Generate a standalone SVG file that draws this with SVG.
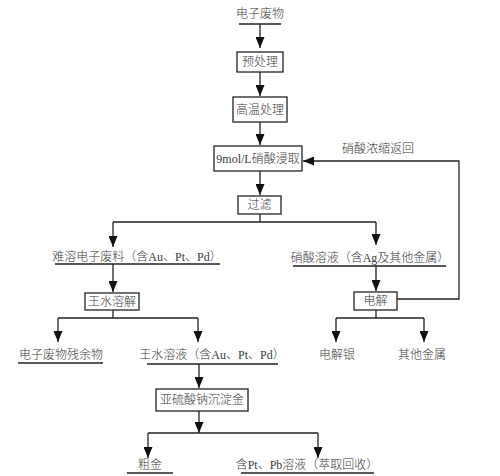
<svg xmlns="http://www.w3.org/2000/svg" width="500" height="476" viewBox="0 0 500 476">
<defs>
<marker id="ah" viewBox="0 0 11 9" refX="11" refY="4.5" markerWidth="11" markerHeight="9" markerUnits="userSpaceOnUse" orient="auto">
<path d="M0,0 L11,4.5 L0,9 z" fill="#111"/>
</marker>
<style>
.t{font-family:"Liberation Serif","Noto Sans CJK SC",serif;font-size:12px;font-weight:300;fill:#3a3a3a;text-anchor:middle}
.b{fill:#fff;stroke:#222;stroke-width:1.3}
.l{fill:none;stroke:#222;stroke-width:1.3}
.a{fill:none;stroke:#222;stroke-width:1.3;marker-end:url(#ah)}
</style>
</defs>
<rect width="500" height="476" fill="#fff"/>
<g id="n_waste"><text class="t" x="260" y="18">电子废物</text><line class="l" x1="239" y1="24" x2="281" y2="24"/></g>
<g id="n_pre"><rect class="b" x="237" y="52" width="46" height="20"/><text class="t" x="260" y="66">预处理</text></g>
<g id="n_heat"><rect class="b" x="233" y="97" width="54" height="25"/><text class="t" x="260" y="114">高温处理</text></g>
<g id="n_leach"><rect class="b" x="214" y="146" width="88" height="25"/><text class="t" x="258" y="163">9mol/L硝酸浸取</text></g>
<g id="n_filter"><rect class="b" x="238" y="196" width="43" height="18"/><text class="t" x="259.5" y="209">过滤</text></g>
<g id="n_insol"><text class="t" x="137" y="261">难溶电子废料（含Au、Pt、Pd）</text><line class="l" x1="55" y1="264" x2="220" y2="264"/></g>
<g id="n_nitric"><text class="t" x="370" y="262">硝酸溶液（含Ag及其他金属）</text><line class="l" x1="293" y1="266" x2="446" y2="266"/></g>
<g id="n_aqua"><rect class="b" x="85" y="293" width="54" height="17"/><text class="t" x="112" y="306">王水溶解</text></g>
<g id="n_elec"><rect class="b" x="354" y="292" width="43" height="18"/><text class="t" x="375.5" y="305">电解</text></g>
<g id="n_resid"><text class="t" x="61" y="359">电子废物残余物</text><line class="l" x1="18" y1="363" x2="103" y2="363"/></g>
<g id="n_aquasol"><text class="t" x="212" y="359">王水溶液（含Au、Pt、Pd）</text><line class="l" x1="147" y1="364" x2="278" y2="364"/></g>
<g id="n_ag"><text class="t" x="337" y="359">电解银</text></g>
<g id="n_other"><text class="t" x="422" y="359">其他金属</text></g>
<g id="n_sulfite"><rect class="b" x="156" y="389" width="92" height="22"/><text class="t" x="202" y="404">亚硫酸钠沉淀金</text></g>
<g id="n_gold"><text class="t" x="150" y="469">粗金</text><line class="l" x1="127" y1="473" x2="173" y2="473"/></g>
<g id="n_ptpb"><text class="t" x="307" y="469">含Pt、Pb溶液（萃取回收）</text><line class="l" x1="241" y1="473" x2="374" y2="473"/></g>
<g id="n_back"><text class="t" x="378" y="153">硝酸浓缩返回</text></g>
<g id="connectors">
<line class="a" x1="260" y1="24" x2="260" y2="48"/>
<line class="a" x1="260" y1="72" x2="260" y2="96"/>
<line class="a" x1="260" y1="122" x2="260" y2="145"/>
<line class="a" x1="260" y1="171" x2="260" y2="195"/>
<polyline class="l" points="260,214 260,222"/>
<line class="l" x1="113" y1="222" x2="376" y2="222"/>
<line class="a" x1="113" y1="222" x2="113" y2="247"/>
<line class="a" x1="376" y1="222" x2="376" y2="245"/>
<line class="a" x1="113" y1="264" x2="113" y2="292"/>
<line class="l" x1="113" y1="310" x2="113" y2="318"/>
<line class="l" x1="58" y1="318" x2="198" y2="318"/>
<line class="a" x1="58" y1="318" x2="58" y2="342"/>
<line class="a" x1="198" y1="318" x2="198" y2="342"/>
<line class="a" x1="376" y1="266" x2="376" y2="291"/>
<polyline class="a" points="397,299 459,299 459,161 303,161"/>
<line class="l" x1="376" y1="310" x2="376" y2="318"/>
<line class="l" x1="336" y1="318" x2="424" y2="318"/>
<line class="a" x1="336" y1="318" x2="336" y2="342"/>
<line class="a" x1="424" y1="318" x2="424" y2="342"/>
<line class="a" x1="199" y1="364" x2="199" y2="388"/>
<line class="a" x1="199" y1="411" x2="199" y2="433"/>
<line class="l" x1="148" y1="433" x2="318" y2="433"/>
<line class="a" x1="148" y1="433" x2="148" y2="458"/>
<line class="a" x1="318" y1="433" x2="318" y2="458"/>
</g>
</svg>
